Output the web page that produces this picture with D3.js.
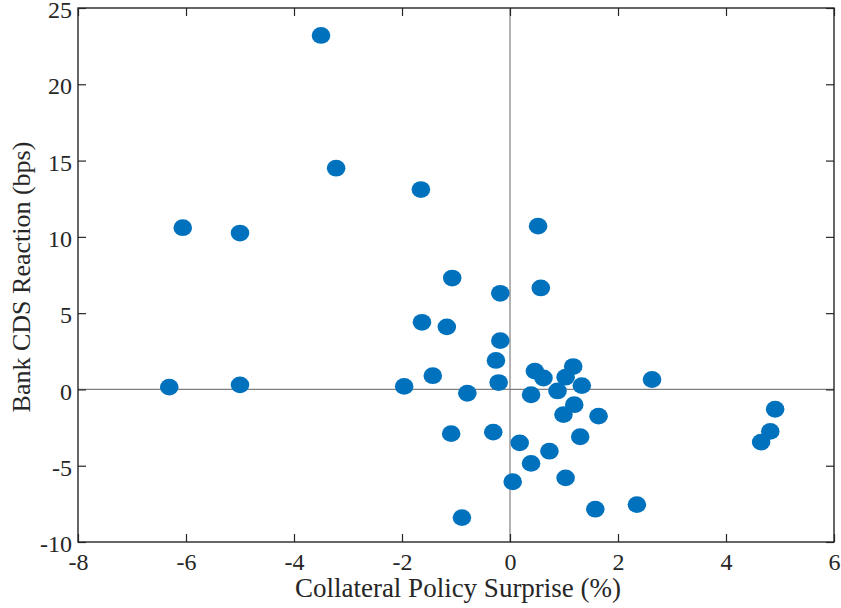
<!DOCTYPE html>
<html>
<head>
<meta charset="utf-8">
<script src="https://cdn.jsdelivr.net/npm/d3@7"></script>
<style>
  body { margin: 0; background: #fff; }
  svg { display: block; }
</style>
</head>
<body>
<div id="chart"></div>
<script>
// collateral policy surprise (%) and bank CDS reaction (bps)
var surprise = [-3.5, -3.22, -1.65, -6.06, -5.0, 0.52, -1.07, -0.18, 0.57,
  -1.63, -1.17, -0.18, -0.26, -6.31, -5.0, -1.96, -1.43, -0.79, -0.21,
  0.39, 0.46, 0.62, 1.03, 1.17, 1.33, 0.88, 2.63, 1.19, 0.99, 1.64,
  1.30, -1.09, -0.31, 0.18, 0.73, 0.39, 0.05, 1.03, 1.58, 2.35, -0.89,
  4.91, 4.82, 4.65];
var reaction = [23.2, 14.5, 13.1, 10.6, 10.25, 10.7, 7.3, 6.3, 6.65,
  4.4, 4.1, 3.2, 1.9, 0.15, 0.3, 0.2, 0.9, -0.25, 0.45,
  -0.35, 1.2, 0.75, 0.8, 1.5, 0.25, -0.1, 0.65, -1.0, -1.65, -1.75,
  -3.1, -2.9, -2.8, -3.5, -4.05, -4.85, -6.05, -5.8, -7.85, -7.55, -8.4,
  -1.3, -2.75, -3.45];
var xTicks = [-8, -6, -4, -2, 0, 2, 4, 6];
var yTicks = [-10, -5, 0, 5, 10, 15, 20, 25];

var FONT = '"Liberation Serif", "Times New Roman", serif';
var W = 841, H = 608;
var m = { left: 78, top: 8, right: 841 - 834, bottom: 608 - 542 };
var w = W - m.left - m.right, h = H - m.top - m.bottom;

var svg = d3.select("#chart").append("svg").attr("width", W).attr("height", H);
var g = svg.append("g").attr("transform", "translate(" + m.left + "," + m.top + ")");

var x = d3.scaleLinear().domain([-8, 6]).range([0, w]);
var y = d3.scaleLinear().domain([-10, 25]).range([h, 0]);

// zero lines
g.append("line").attr("x1", 0).attr("x2", w).attr("y1", y(0)).attr("y2", y(0))
  .attr("stroke", "#7f7f7f").attr("stroke-width", 1.2);
g.append("line").attr("x1", x(0)).attr("x2", x(0)).attr("y1", 0).attr("y2", h)
  .attr("stroke", "#7f7f7f").attr("stroke-width", 1.2);

// points
g.selectAll("ellipse.pt").data(surprise).enter().append("ellipse")
  .attr("class", "pt")
  .attr("cx", function(d) { return x(d); })
  .attr("cy", function(d, i) { return y(reaction[i]); })
  .attr("rx", 9.3).attr("ry", 8.4)
  .attr("fill", "#0072BD");

// axes, ticks inside
function styleAxis(sel) {
  sel.attr("font-family", FONT);
  sel.select(".domain").remove();
  sel.selectAll(".tick line").attr("stroke", "#262626").attr("stroke-width", 1.2);
  sel.selectAll(".tick text").style("font-family", FONT).style("font-size", "24px").attr("fill", "#262626")
    .text(function() { return this.textContent.replace("\u2212", "-"); });
}
g.append("g").attr("transform", "translate(0," + h + ")")
  .call(d3.axisBottom(x).tickValues(xTicks).tickSizeInner(-8).tickPadding(11).tickFormat(d3.format("d")))
  .call(styleAxis);
g.append("g")
  .call(d3.axisTop(x).tickValues(xTicks).tickSizeInner(-8).tickFormat(""))
  .call(styleAxis);
g.append("g")
  .call(d3.axisLeft(y).tickValues(yTicks).tickSizeInner(-8).tickPadding(6).tickFormat(d3.format("d")))
  .call(styleAxis)
  .selectAll(".tick text").attr("dy", "0.4em");
g.append("g").attr("transform", "translate(" + w + ",0)")
  .call(d3.axisRight(y).tickValues(yTicks).tickSizeInner(-8).tickFormat(""))
  .call(styleAxis);

// frame
g.append("rect").attr("width", w).attr("height", h)
  .attr("fill", "none").attr("stroke", "#262626").attr("stroke-width", 1.4);

// labels
svg.append("text").attr("x", 458).attr("y", 597)
  .attr("text-anchor", "middle").style("font-family", FONT).style("font-size", "27px").attr("fill", "#262626")
  .text("Collateral Policy Surprise (%)");
svg.append("text").attr("transform", "translate(30,277) rotate(-90)")
  .attr("text-anchor", "middle").style("font-family", FONT).style("font-size", "26px").attr("fill", "#262626")
  .text("Bank CDS Reaction (bps)");
</script>
</body>
</html>
